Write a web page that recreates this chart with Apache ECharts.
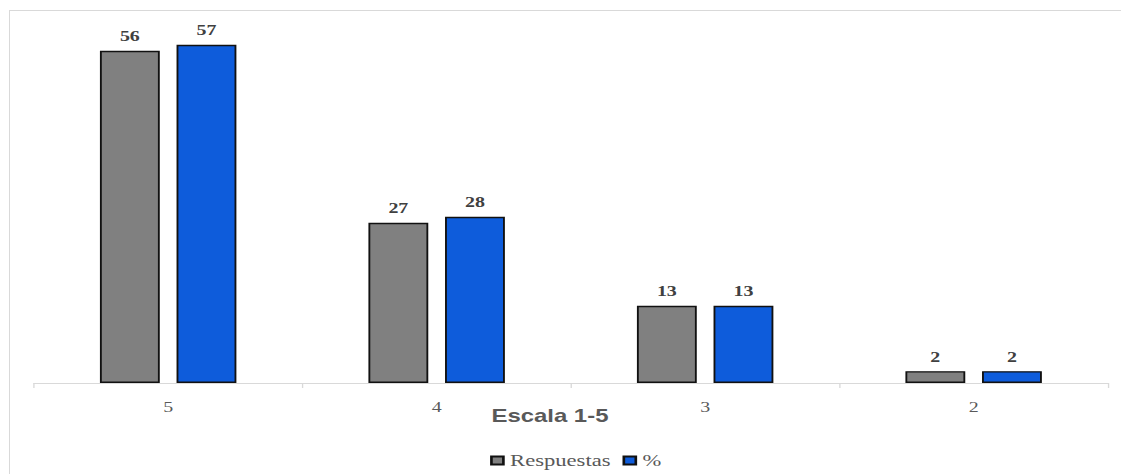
<!DOCTYPE html>
<html>
<head>
<meta charset="utf-8">
<script src="https://cdn.jsdelivr.net/npm/echarts@6/dist/echarts.min.js"></script>
<style>
html,body{margin:0;padding:0;background:#fff;overflow:hidden;}
#frame{position:absolute;left:9px;top:10px;width:1120px;height:470px;border-left:1px solid #d9d9d9;border-top:1px solid #d9d9d9;box-sizing:border-box;}
#c{position:absolute;left:0;top:0;width:843px;height:474px;transform:scaleX(1.33);transform-origin:0 0;}
</style>
</head>
<body>
<div id="frame"></div>
<div id="c"></div>
<script>
const categories = ['5', '4', '3', '2'];
const respuestas = [56, 27, 13, 2];
const porcentaje = [57, 28, 13, 2];
const seriesNames = ['Respuestas', '%'];

const chart = echarts.init(document.getElementById('c'), null, { renderer: 'svg' });
const labelStyle = {
  show: true, position: 'top', distance: 7,
  fontFamily: 'Liberation Serif', fontWeight: 'bold', fontSize: 15, color: '#404040'
};
chart.setOption({
  animation: false,
  grid: { left: 25.5, right: 10, top: 27, bottom: 91 },
  title: {
    text: 'Escala 1-5', left: 364.5, top: 402,
    textStyle: { fontFamily: 'Liberation Sans', fontWeight: 'bold', fontSize: 18, color: '#595959' }
  },
  legend: {
    bottom: 5, left: 368.5, itemWidth: 9, itemHeight: 8, itemGap: 9, icon: 'rect', padding: 0,
    textStyle: { fontFamily: 'Liberation Serif', fontSize: 17, color: '#595959' },
    data: seriesNames
  },
  xAxis: {
    type: 'category', data: categories,
    axisLine: { lineStyle: { color: '#d9d9d9' } },
    axisTick: { show: true, length: 5, lineStyle: { color: '#d9d9d9' } },
    axisLabel: { fontFamily: 'Liberation Serif', fontSize: 15, color: '#595959', margin: 16 }
  },
  yAxis: { type: 'value', min: 0, max: 60, show: false, splitLine: { show: false } },
  series: [
    {
      name: seriesNames[0], type: 'bar', data: respuestas, barWidth: 45, barGap: '28%',
      itemStyle: { color: '#808080', borderColor: '#111', borderWidth: 1.4 },
      label: labelStyle
    },
    {
      name: seriesNames[1], type: 'bar', data: porcentaje, barWidth: 45,
      itemStyle: { color: '#0E5CDB', borderColor: '#111', borderWidth: 1.4 },
      label: labelStyle
    }
  ]
});
</script>
</body>
</html>
